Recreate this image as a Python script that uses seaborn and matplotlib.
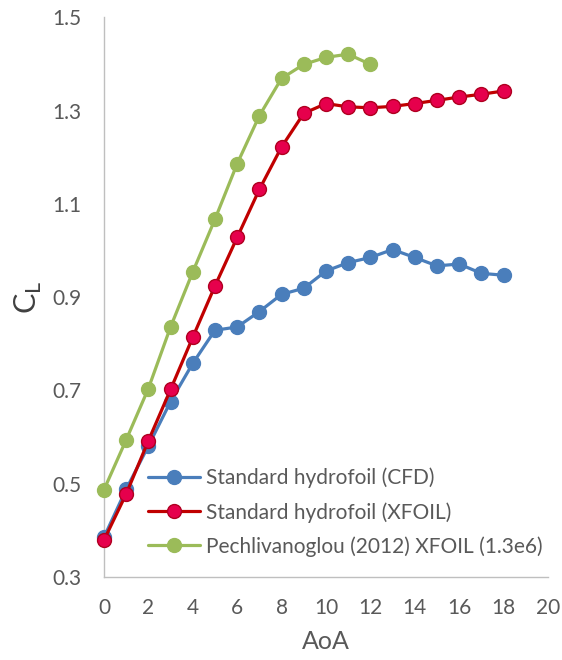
import numpy as np
import pandas as pd
import matplotlib
matplotlib.use("Agg")
import matplotlib.pyplot as plt
import seaborn as sns

# Lift coefficient vs angle of attack
aoa_cfd = [0, 1, 2, 3, 4, 5, 6, 7, 8, 9, 10, 11, 12, 13, 14, 15, 16, 17, 18]
cl_cfd = [0.385, 0.488, 0.581, 0.676, 0.758, 0.829, 0.836, 0.869, 0.906, 0.919,
          0.956, 0.974, 0.985, 1.002, 0.985, 0.967, 0.971, 0.951, 0.947]

aoa_xfoil = [0, 1, 2, 3, 4, 5, 6, 7, 8, 9, 10, 11, 12, 13, 14, 15, 16, 17, 18]
cl_xfoil = [0.379, 0.478, 0.592, 0.702, 0.814, 0.924, 1.028, 1.131, 1.222, 1.294,
            1.315, 1.308, 1.306, 1.309, 1.315, 1.322, 1.329, 1.335, 1.342]

aoa_pech = [0, 1, 2, 3, 4, 5, 6, 7, 8, 9, 10, 11, 12]
cl_pech = [0.487, 0.594, 0.704, 0.836, 0.954, 1.067, 1.186, 1.289, 1.369, 1.399,
           1.414, 1.421, 1.399]

labels = ["Standard hydrofoil (CFD)",
          "Standard hydrofoil (XFOIL)",
          "Pechlivanoglou (2012) XFOIL (1.3e6)"]

x_ticks = [0, 2, 4, 6, 8, 10, 12, 14, 16, 18, 20]
y_ticks = [0.3, 0.5, 0.7, 0.9, 1.1, 1.3, 1.5]

sns.set_theme(style="white")
plt.rcParams["font.family"] = ["Lato", "DejaVu Sans"]
plt.rcParams["mathtext.fontset"] = "custom"
plt.rcParams["mathtext.rm"] = "Lato"

fig = plt.figure(figsize=(5.62, 6.6), dpi=100)
ax = fig.add_axes([0.185, 0.1258, 0.79, 0.848])

styles = [
    (aoa_cfd, cl_cfd, labels[0], "#4A7EBB", "#4A7EBB", "#4A7EBB"),
    (aoa_xfoil, cl_xfoil, labels[1], "#C00000", "#E6004C", "#B00020"),
    (aoa_pech, cl_pech, labels[2], "#9BBB59", "#9BBB59", "#9BBB59"),
]
for xs, ys, lab, lc, mfc, mec in styles:
    df = pd.DataFrame({"AoA": xs, "CL": ys})
    sns.lineplot(data=df, x="AoA", y="CL", ax=ax, label=lab, color=lc,
                 linewidth=2.3, marker="o", markersize=10,
                 markerfacecolor=mfc, markeredgecolor=mec, markeredgewidth=1.0)

ax.set_xlim(0, 20)
ax.set_ylim(0.3, 1.5)
ax.set_xticks(x_ticks)
ax.set_yticks(y_ticks)
ax.set_xticklabels([str(v) for v in x_ticks])
ax.set_yticklabels([f"{v:.1f}" for v in y_ticks])

for side in ["top", "right"]:
    ax.spines[side].set_visible(False)
for side in ["left", "bottom"]:
    ax.spines[side].set_color("#BFBFBF")
    ax.spines[side].set_linewidth(1.0)
    ax.spines[side].set_zorder(0)

ax.tick_params(axis="both", direction="in", length=6, width=1.0,
               color="#BFBFBF", labelcolor="#595959", labelsize=15)
ax.tick_params(axis="x", pad=15)
ax.tick_params(axis="y", pad=16)

ax.set_xlabel("AoA", fontsize=18, color="#595959", labelpad=9)
ax.set_ylabel(r"C$_\mathregular{L}$", fontsize=22, color="#404040", labelpad=6)

leg = ax.legend(loc="upper left", bbox_to_anchor=(0.08, 0.21), frameon=False,
                fontsize=15, handlelength=2.5, handletextpad=0.3,
                labelspacing=0.65, borderaxespad=0)
for t in leg.get_texts():
    t.set_color("#595959")

for l in ax.get_lines():
    l.set_clip_on(False)

fig.savefig("out.png", dpi=100)
